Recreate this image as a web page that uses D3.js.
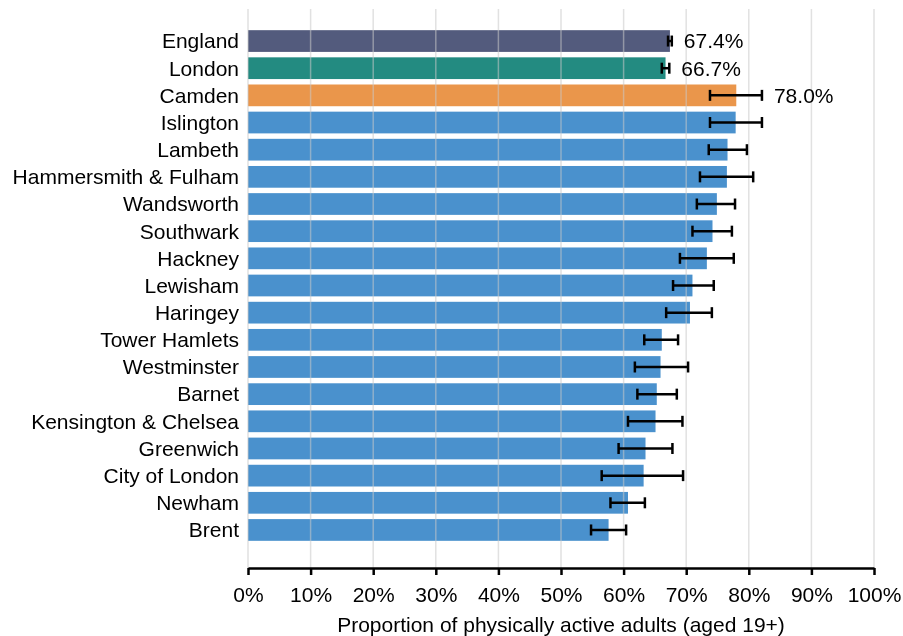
<!DOCTYPE html>
<head>
  <meta charset="utf-8">
  <script src="https://d3js.org/d3.v7.min.js"></script>
  <style>
    body { margin:0;position:fixed;top:0;right:0;bottom:0;left:0;background:#fff; }
    text { font-family: "Liberation Sans", Arial, sans-serif; }
  </style>
</head>

<body>
  <script>
    var width = 903,
        height = 636;

    // data
    var areas = ['England', 'London', 'Camden', 'Islington', 'Lambeth',
      'Hammersmith & Fulham', 'Wandsworth', 'Southwark', 'Hackney', 'Lewisham',
      'Haringey', 'Tower Hamlets', 'Westminster', 'Barnet', 'Kensington & Chelsea',
      'Greenwich', 'City of London', 'Newham', 'Brent'];
    var values = [67.4, 66.7, 78.0, 77.9, 76.6, 76.5, 74.9, 74.2, 73.3, 71.0,
      70.6, 66.1, 65.9, 65.3, 65.1, 63.5, 63.2, 60.7, 57.6];
    var lower = [67.1, 66.1, 73.8, 73.8, 73.6, 72.2, 71.7, 71.0, 69.0, 67.9,
      66.8, 63.3, 61.8, 62.2, 60.7, 59.2, 56.5, 57.9, 54.8];
    var upper = [67.7, 67.3, 82.1, 82.1, 79.7, 80.7, 77.8, 77.3, 77.6, 74.4,
      74.1, 68.7, 70.3, 68.5, 69.4, 67.8, 69.5, 63.4, 60.4];
    var labelled = ['England', 'London', 'Camden'];
    var ticks = [0, 10, 20, 30, 40, 50, 60, 70, 80, 90, 100];

    var colour = function(name) {
      if (name == 'England') return '#535b7d';
      if (name == 'London') return '#238b81';
      if (name == 'Camden') return '#ea964b';
      return '#4a91cd';
    };

    var data = areas.map(function(a, i) {
      return {area: a, value: values[i], lo: lower[i], hi: upper[i]};
    });

    var svg = d3.select("body").append("svg")
      .attr("width", width)
      .attr("height", height)

    var xScale = d3.scaleLinear()
      .domain([0, 100])
      .range([248, 874]);

    var yScale = d3.scaleBand()
      .domain(areas)
      .range([6, 565])
      .paddingInner(0.2)
      .paddingOuter(0.89);

    var bars = svg.append('g');
    bars.selectAll('rect')
      .data(data)
      .enter()
      .append('rect')
      .attr('x', xScale(0))
      .attr('y', function(d) { return yScale(d.area) })
      .attr('width', function(d) { return xScale(d.value) - xScale(0) })
      .attr('height', yScale.bandwidth())
      .attr('fill', function(d) { return colour(d.area) });

    // grid sits on top of the bars, half see-through
    svg.append('g')
      .selectAll('line')
      .data(ticks)
      .enter()
      .append('line')
      .attr('x1', function(d) { return xScale(d) })
      .attr('x2', function(d) { return xScale(d) })
      .attr('y1', 9)
      .attr('y2', 568)
      .attr('stroke', '#c8c8c8')
      .attr('stroke-opacity', 0.55)
      .attr('stroke-width', 1.5);

    //error bars
    var errs = svg.append('g')
      .attr('stroke', '#000')
      .attr('stroke-width', 2.5);
    var capH = 5.5;
    data.forEach(function(d) {
      var cy = yScale(d.area) + yScale.bandwidth() / 2;
      errs.append('line')
        .attr('x1', xScale(d.lo)).attr('x2', xScale(d.hi))
        .attr('y1', cy).attr('y2', cy);
      [d.lo, d.hi].forEach(function(v) {
        errs.append('line')
          .attr('x1', xScale(v)).attr('x2', xScale(v))
          .attr('y1', cy - capH).attr('y2', cy + capH);
      });
    });

    // value labels on the first three rows
    svg.append('g')
      .selectAll('text')
      .data(data.filter(function(d) { return labelled.indexOf(d.area) >= 0 }))
      .enter()
      .append('text')
      .attr('x', function(d) { return xScale(Math.max(d.value, d.hi)) + 12 })
      .attr('y', function(d) { return yScale(d.area) + yScale.bandwidth() / 2 })
      .attr('dy', '0.35em')
      .style('font-size', '21px')
      .attr('fill', '#000')
      .text(function(d) { return d.value.toFixed(1) + '%' });

    // category names
    svg.append('g')
      .selectAll('text')
      .data(areas)
      .enter()
      .append('text')
      .attr('x', 239)
      .attr('y', function(d) { return yScale(d) + yScale.bandwidth() / 2 })
      .attr('dy', '0.35em')
      .attr('text-anchor', 'end')
      .style('font-size', '21px')
      .attr('fill', '#000')
      .text(function(d) { return d });

    var xAxis = d3.axisBottom(xScale)
      .tickValues(ticks)
      .tickFormat(function(d) { return d + '%' })
      .tickSize(7)
      .tickSizeOuter(0)
      .tickPadding(12);

    var ax = svg.append('g')
      .attr('transform', 'translate(0,568)')
      .call(xAxis);
    ax.select('.domain').attr('stroke-width', 2.5);
    ax.selectAll('.tick line').attr('stroke-width', 2.5);
    ax.selectAll('.tick text')
      .style('font-size', '21px')
      .style('font-family', '"Liberation Sans", Arial, sans-serif');

    svg.append('text')
      .attr('x', (xScale(0) + xScale(100)) / 2)
      .attr('y', 632)
      .attr('text-anchor', 'middle')
      .style('font-size', '21px')
      .text('Proportion of physically active adults (aged 19+)');
  </script>
</body>
